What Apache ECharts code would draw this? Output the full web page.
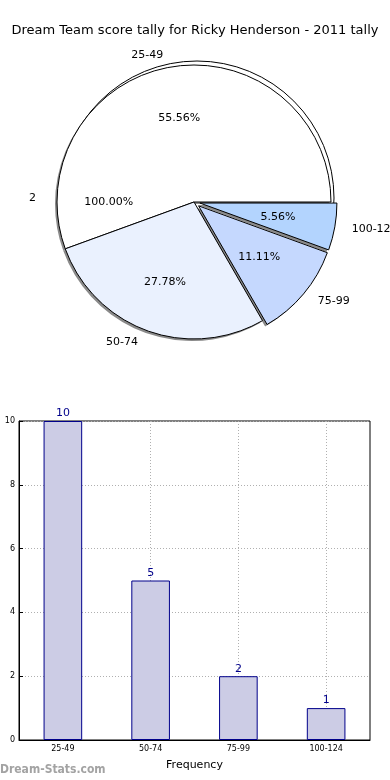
<!DOCTYPE html>
<html><head><meta charset="utf-8">
<script src="https://cdn.jsdelivr.net/npm/echarts@6/dist/echarts.min.js"></script>
<style>html,body{margin:0;padding:0;background:#fff}#c{width:390px;height:780px}</style>
</head><body><div id="c"></div>
<script>
const titleText = 'Dream Team score tally for Ricky Henderson - 2011 tally';
const categories = ['25-49', '50-74', '75-99', '100-124'];
const tallyValues = [10, 5, 2, 1];
const sliceColors = ['#ffffff', '#eaf1fe', '#c5d8fe', '#b3d4fe'];
const explodedSlices = [false, false, true, true];
const strayNames = ['2'];
const strayValues = [2];
const yTickValues = [0, 2, 4, 6, 8, 10];
const xAxisTitle = 'Frequency';
const yAxisTitle = 'Score Tally';
const watermark = 'Dream-Stats.com';

const FONT = 'DejaVu Sans';
const total = tallyValues.reduce((a, b) => a + b, 0);
const strayTotal = strayValues.reduce((a, b) => a + b, 0);
const pct = (v, t) => (v / t * 100).toFixed(2) + '%';

const C = [194, 202], R = 137;

const mainData = categories.map((c, i) => ({
  name: c, value: tallyValues[i], selected: explodedSlices[i],
  itemStyle: { color: sliceColors[i] }
}));

const chart = echarts.init(document.getElementById('c'), null, { renderer: 'canvas' });
chart.setOption({
  animation: false,
  backgroundColor: '#fff',
  textStyle: { fontFamily: FONT },
  title: {
    text: titleText, left: 'center', top: 19,
    textStyle: { fontFamily: FONT, fontSize: 13, fontWeight: 'normal', color: '#000' }
  },
  graphic: [{
    type: 'text', left: 0, top: 764,
    style: { text: watermark, fill: '#a3a3a3', font: 'bold 12px "DejaVu Sans Condensed"' }
  }],
  grid: {
    left: 19, right: 20, top: 421, bottom: 40, show: true,
    containLabel: false, outerBoundsMode: 'none',
    borderColor: '#000', borderWidth: 1, backgroundColor: 'transparent'
  },
  xAxis: {
    type: 'category', data: categories,
    name: xAxisTitle, nameLocation: 'middle', nameGap: 20,
    nameTextStyle: { fontFamily: FONT, fontSize: 11, color: '#000' },
    axisLine: { lineStyle: { color: '#000' } },
    axisTick: { show: true, alignWithLabel: true, inside: true, length: 4, lineStyle: { color: '#000' } },
    axisLabel: { fontFamily: FONT, fontSize: 8, color: '#000', margin: 5 },
    splitLine: { show: true, alignWithLabel: true, lineStyle: { color: '#b0b0b0', type: [1, 2] } }
  },
  yAxis: {
    type: 'value', min: 0, max: 10, interval: 2,
    name: yAxisTitle, nameLocation: 'middle', nameGap: 22,
    nameTextStyle: { fontFamily: FONT, fontSize: 11, color: '#000' },
    axisLine: { show: true, lineStyle: { color: '#000' } },
    axisTick: { show: true, inside: true, length: 4, lineStyle: { color: '#000' } },
    axisLabel: { fontFamily: FONT, fontSize: 8, color: '#000', margin: 4,
      formatter: v => yTickValues.includes(v) ? String(v) : '' },
    splitLine: { show: true, lineStyle: { color: '#b0b0b0', type: [1, 2] } }
  },
  series: [
    {
      type: 'pie', name: 'stray', z: 1, silent: true,
      center: [C[0] + 3, C[1] - 4], radius: R,
      startAngle: 0, clockwise: false, avoidLabelOverlap: false,
      data: strayNames.map((n, i) => ({ name: n, value: strayValues[i] })),
      itemStyle: { color: '#fff', borderColor: '#000', borderWidth: 1 },
      label: { show: true, position: 'outside', formatter: '{b}', fontFamily: FONT, fontSize: 11, color: '#000' },
      labelLine: { show: false, length: 19, length2: 0 },
      emphasis: { disabled: true }
    },
    {
      type: 'pie', name: 'shadow', z: 2, silent: true,
      center: [C[0] - 2, C[1] + 2], radius: R,
      startAngle: 0, clockwise: false,
      selectedMode: 'multiple', selectedOffset: 6,
      data: mainData.map(d => ({ name: d.name, value: d.value, selected: d.selected })),
      itemStyle: { color: '#8a8a8a', borderWidth: 0 },
      label: { show: false }, labelLine: { show: false },
      emphasis: { disabled: true }
    },
    {
      type: 'pie', name: 'tally', z: 3,
      center: C, radius: R,
      startAngle: 0, clockwise: false, avoidLabelOverlap: false,
      selectedMode: 'multiple', selectedOffset: 6,
      data: mainData,
      itemStyle: { borderColor: '#000', borderWidth: 1 },
      label: { show: true, position: 'outside', formatter: '{b}', fontFamily: FONT, fontSize: 11, color: '#000' },
      labelLine: { show: false, length: 12, length2: 0 },
      emphasis: { disabled: true }
    },
    {
      type: 'pie', name: 'pct', z: 4, silent: true,
      center: C, radius: R * 1.2,
      startAngle: 0, clockwise: false, avoidLabelOverlap: false,
      data: mainData.map(d => ({ name: d.name, value: d.value })),
      itemStyle: { color: 'rgba(0,0,0,0)', borderWidth: 0 },
      label: { show: true, position: 'inside', fontFamily: FONT, fontSize: 11, color: '#000',
        formatter: p => pct(p.value, total) },
      labelLine: { show: false },
      emphasis: { disabled: true }
    },
    {
      type: 'pie', name: 'strayPct', z: 4, silent: true,
      center: C, radius: R * 1.2,
      startAngle: 0, clockwise: false, avoidLabelOverlap: false,
      data: strayNames.map((n, i) => ({ name: n, value: strayValues[i] })),
      itemStyle: { color: 'rgba(0,0,0,0)', borderWidth: 0 },
      label: { show: true, position: 'inside', fontFamily: FONT, fontSize: 11, color: '#000',
        formatter: p => pct(p.value, strayTotal) },
      labelLine: { show: false },
      emphasis: { disabled: true }
    },
    {
      type: 'bar', name: 'bars', data: tallyValues, barWidth: '44%',
      itemStyle: { color: '#ccccE5', borderColor: '#00008b', borderWidth: 1 },
      label: { show: true, position: 'top', distance: 2, fontFamily: FONT, fontSize: 11, color: '#00008b' },
      emphasis: { disabled: true }
    }
  ]
});
</script>
</body></html>
